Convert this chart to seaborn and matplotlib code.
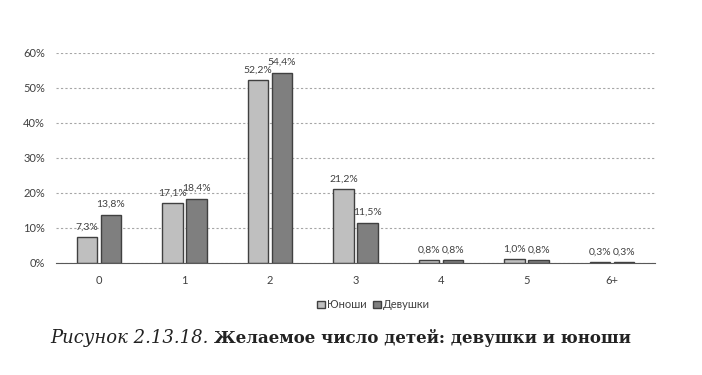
import numpy as np
import pandas as pd
import matplotlib.pyplot as plt
import seaborn as sns

# data
categories = ['0', '1', '2', '3', '4', '5', '6+']
boys = [7.3, 17.1, 52.2, 21.2, 0.8, 1.0, 0.3]
girls = [13.8, 18.4, 54.4, 11.5, 0.8, 0.8, 0.3]
series_names = ['Юноши', 'Девушки']

df = pd.DataFrame({
    'cat': categories * 2,
    'val': boys + girls,
    'group': [series_names[0]] * len(categories) + [series_names[1]] * len(categories),
})

sns.set_style('white')
plt.rcParams['font.family'] = ['Lato', 'DejaVu Sans']

fig = plt.figure(figsize=(7.02, 3.75), dpi=100)
ax = fig.add_axes([0.08, 0.2987, 0.853, 0.56])

sns.barplot(data=df, x='cat', y='val', hue='group', order=categories,
            hue_order=series_names, palette=['#bfbfbf', '#7f7f7f'],
            width=0.56, gap=0.15, edgecolor='#404040', linewidth=1.0,
            saturation=1, ax=ax, legend=True)

for cont in ax.containers:
    ax.bar_label(cont, labels=[f'{v:.1f}%'.replace('.', ',') for v in cont.datavalues],
                 padding=4, fontsize=7.5, color='#404040')

ax.set_ylim(0, 60)
ax.set_xlim(-0.5, 6.5)
ax.set_yticks(np.arange(0, 61, 10))
ax.set_yticklabels([f'{t}%' for t in range(0, 61, 10)], fontsize=8, color='#404040')
ax.set_xticks(range(len(categories)))
ax.set_xticklabels(categories, fontsize=8, color='#404040')
ax.set_xticks(np.arange(-0.5, 7, 1), minor=True)
ax.tick_params(axis='x', which='major', length=0, pad=9)
ax.tick_params(axis='x', which='minor', length=4, color='#595959', direction='out')
ax.tick_params(axis='y', length=0, pad=8)
ax.yaxis.grid(True, linestyle=(0, (2, 2)), color='#a6a6a6', linewidth=0.8)
ax.set_axisbelow(True)
for s in ['top', 'right', 'left']:
    ax.spines[s].set_visible(False)
ax.spines['bottom'].set_color('#595959')
ax.set_xlabel('')
ax.set_ylabel('')

ax.legend(loc='center', bbox_to_anchor=(0.53, -0.2), ncol=2, frameon=False,
          fontsize=8, handlelength=0.7, handleheight=0.7, handletextpad=0.2,
          columnspacing=0.6, labelcolor='#404040')

fig.text(0.071, 0.085, 'Рисунок 2.13.18.', family='DejaVu Serif', style='italic',
         fontsize=13, color='#222222')
fig.text(0.305, 0.085, 'Желаемое число детей: девушки и юноши', family='DejaVu Serif',
         weight='bold', fontsize=12, color='#222222')

fig.savefig('out.png', dpi=100)
